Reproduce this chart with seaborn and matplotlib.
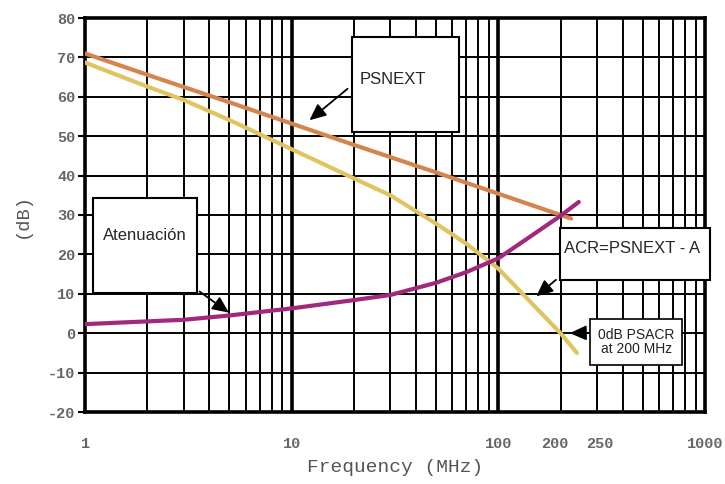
import numpy as np
import pandas as pd
import seaborn as sns
import matplotlib
matplotlib.use("Agg")
import matplotlib.pyplot as plt
from matplotlib.patches import Rectangle
from matplotlib.transforms import ScaledTranslation

# curve data (frequency in MHz, level in dB)
psnext_freq = [1, 2, 3, 5, 10, 20, 50, 100, 200, 225]
psnext_db = [71.0, 65.6, 62.5, 58.6, 53.2, 47.8, 40.8, 35.4, 30.0, 29.1]

acr_freq = [1, 2, 3, 5, 10, 20, 30, 50, 70, 100, 150, 200, 240]
acr_db = [68.7, 62.6, 59.2, 54.1, 46.7, 39.3, 35.0, 27.8, 22.7, 16.4, 6.8, 0.0, -5.0]

aten_freq = [1, 2, 3, 5, 10, 20, 30, 50, 70, 100, 150, 200, 245]
aten_db = [2.3, 3.0, 3.4, 4.5, 6.3, 8.4, 9.7, 12.8, 15.5, 19.0, 25.3, 29.8, 33.3]

xtick_vals = [1, 10, 100, 200, 250, 1000]
xtick_labels = ["1", "10", "100", "200", "250", "1000"]
ytick_vals = list(range(-20, 81, 10))

df = pd.concat([
    pd.DataFrame({"freq": psnext_freq, "db": psnext_db, "curve": "PSNEXT"}),
    pd.DataFrame({"freq": acr_freq, "db": acr_db, "curve": "ACR"}),
    pd.DataFrame({"freq": aten_freq, "db": aten_db, "curve": "Atenuacion"}),
])
palette = {"PSNEXT": "#d4844c", "ACR": "#e0c462", "Atenuacion": "#a2287e"}

sns.set_style("white")
plt.rcParams["font.family"] = ["Liberation Sans", "DejaVu Sans"]

fig = plt.figure(figsize=(7.25, 4.84), dpi=100)
ax = fig.add_axes([85 / 725, 72 / 484, 620 / 725, 394 / 484])
ax.set_xscale("log")
ax.set_xlim(1, 1000)
ax.set_ylim(-20, 80)

# log grid: thin lines on 2..9, thick on decades
minor_lines = [d * k for d in (1, 10, 100) for k in range(2, 10)]
ax.vlines(minor_lines, -20, 80, color="black", lw=1.4, zorder=1)
ax.vlines([10, 100], -20, 80, color="black", lw=2.6, zorder=1)
ax.hlines(ytick_vals[1:-1], 1, 1000, color="black", lw=1.4, zorder=1)

sns.lineplot(data=df, x="freq", y="db", hue="curve", palette=palette,
             lw=3, legend=False, ax=ax, zorder=3)

for s in ax.spines.values():
    s.set_linewidth(2.6)
    s.set_color("black")

mono = "Liberation Mono"
ax.set_xticks(xtick_vals)
ax.set_xticklabels(xtick_labels, family=mono, fontsize=11, color="#666666", weight="bold")
ax.xaxis.set_minor_locator(matplotlib.ticker.NullLocator())
ax.tick_params(axis="x", length=0, pad=18)
# spread the crowded 200 / 250 labels apart like the original
labels = ax.get_xticklabels()
labels[3].set_transform(labels[3].get_transform() + ScaledTranslation(-0.06, 0, fig.dpi_scale_trans))
labels[4].set_transform(labels[4].get_transform() + ScaledTranslation(0.19, 0, fig.dpi_scale_trans))
ax.set_yticks(ytick_vals)
ax.set_yticklabels([str(v) for v in ytick_vals], family=mono, fontsize=11, color="#666666", weight="bold")
ax.tick_params(axis="y", length=5, width=1.5, color="black", direction="out", pad=2, left=True)
ax.set_xlabel("Frequency (MHz)", family=mono, fontsize=14, color="#555555", labelpad=6)
ax.set_ylabel("(dB)", family=mono, fontsize=13.5, color="#555555", labelpad=12)

# annotation boxes (axes fraction)
def box(x0, y0, x1, y1, lw=1.5):
    ax.add_patch(Rectangle((x0, y0), x1 - x0, y1 - y0, transform=ax.transAxes,
                           facecolor="white", edgecolor="black", lw=lw, zorder=5, clip_on=False))

arrow = dict(arrowstyle="-|>,head_length=1.0,head_width=0.45", color="black", lw=1.3)

box(0.431, 0.711, 0.603, 0.952)
ax.text(0.497, 0.843, "PSNEXT", transform=ax.transAxes, ha="center", va="center",
        fontsize=12, zorder=6)
ax.annotate("", xy=(11.9, 53.6), xytext=(0.427, 0.825), textcoords="axes fraction",
            arrowprops=arrow, zorder=6)

box(0.013, 0.302, 0.181, 0.543)
ax.text(0.096, 0.447, "Atenuación", transform=ax.transAxes, ha="center", va="center",
        fontsize=12, zorder=6)
ax.annotate("", xy=(5.1, 4.8), xytext=(0.181, 0.310), textcoords="axes fraction",
            arrowprops=arrow, zorder=6)

box(0.766, 0.335, 1.008, 0.467)
ax.text(0.882, 0.416, "ACR=PSNEXT - A", transform=ax.transAxes, ha="center", va="center",
        fontsize=12, zorder=6)
ax.annotate("", xy=(149, 8.9), xytext=(0.763, 0.340), textcoords="axes fraction",
            arrowprops=arrow, zorder=6)

box(0.815, 0.119, 0.963, 0.236, lw=1.2)
ax.text(0.889, 0.177, "0dB PSACR\nat 200 MHz", transform=ax.transAxes, ha="center", va="center",
        fontsize=10, color="#222222", linespacing=1.0, zorder=6)
ax.annotate("", xy=(215, 0), xytext=(0.815, 0.201), textcoords="axes fraction",
            arrowprops=arrow, zorder=6)

fig.savefig("out.png", dpi=100)
